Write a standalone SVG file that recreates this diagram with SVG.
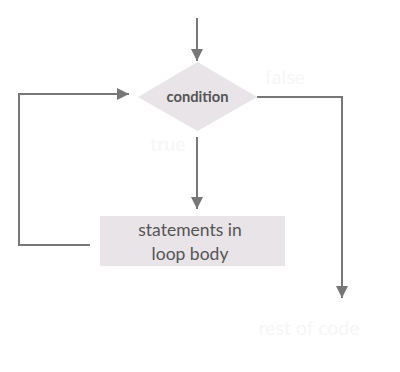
<svg xmlns="http://www.w3.org/2000/svg" width="400" height="372" viewBox="0 0 400 372">
  <defs>
    <marker id="arrow" viewBox="0 0 12 12" refX="12" refY="6" markerWidth="12" markerHeight="12" markerUnits="userSpaceOnUse" orient="auto">
      <path d="M0,0 L12,6 L0,12 Z" fill="#777"/>
    </marker>
    <style>
      .edge { fill: none; stroke: #777; stroke-width: 2; }
      .shape { fill: #e9e4e8; }
      .label { font-family: Lato, "Open Sans", sans-serif; fill: #555; text-anchor: middle; }
      .faint { font-family: Lato, "Open Sans", sans-serif; fill: #f6f6f6; text-anchor: middle; font-size: 19.5px; }
    </style>
  </defs>
  <rect width="400" height="372" fill="#fff"/>

  <g id="connectors">
    <path class="edge" d="M197,18 V61" marker-end="url(#arrow)"/>
    <path class="edge" d="M197,137 V209" marker-end="url(#arrow)"/>
    <path class="edge" d="M257,97 H342 V298" marker-end="url(#arrow)"/>
    <path class="edge" d="M90,245 H19 V94 H129" marker-end="url(#arrow)"/>
    <text class="faint" x="285" y="84">false</text>
    <text class="faint" x="168" y="151">true</text>
  </g>

  <g id="condition">
    <polygon class="shape" points="197.5,62 257,97 197.5,131 138,97"/>
    <text class="label" x="197.5" y="102" font-size="14.7" font-weight="bold">condition</text>
  </g>

  <g id="loop-body">
    <rect class="shape" x="100" y="216" width="185" height="50"/>
    <text class="label" x="190" y="236" font-size="17.5">statements in</text>
    <text class="label" x="190" y="260" font-size="17.5">loop body</text>
  </g>

  <g id="rest-of-code">
    <text class="faint" x="309" y="335">rest of code</text>
  </g>
</svg>
